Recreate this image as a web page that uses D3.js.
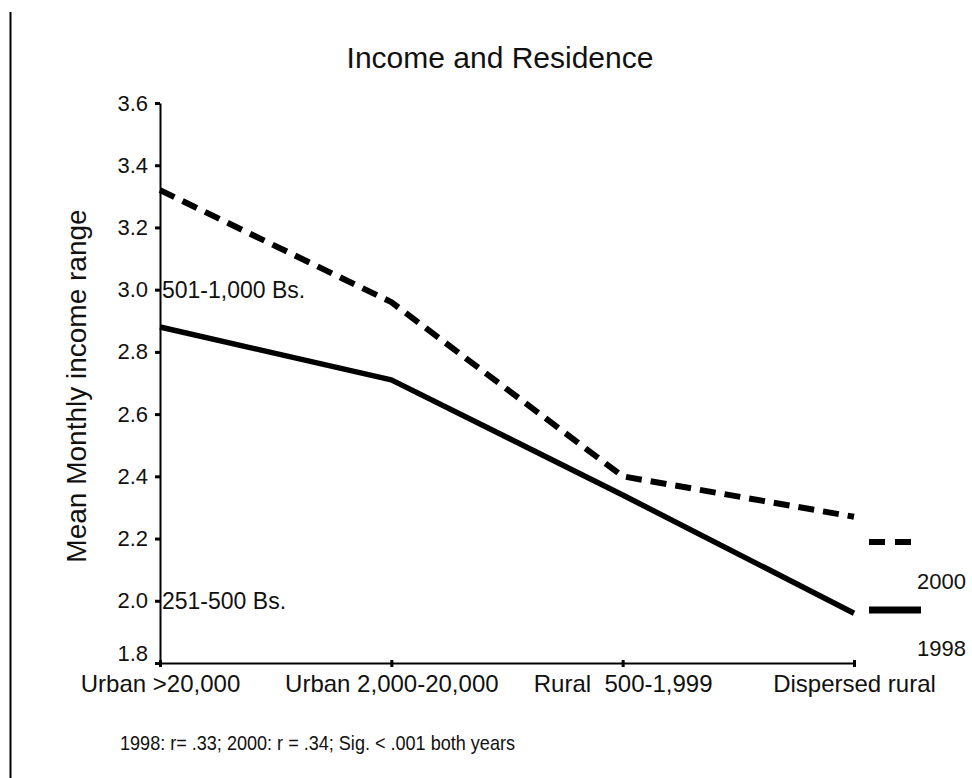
<!DOCTYPE html>
<html>
<head>
<meta charset="utf-8">
<script src="https://cdn.jsdelivr.net/npm/d3@7"></script>
<style>
  html, body { margin: 0; padding: 0; background: #fff; }
  svg { display: block; }
  text { font-family: "Liberation Sans", Arial, sans-serif; fill: #111; }
</style>
</head>
<body>
<svg id="chart" width="972" height="778"></svg>
<script>
// ---- data ----
const categories = ["Urban >20,000", "Urban 2,000-20,000", "Rural  500-1,999", "Dispersed rural"];
const values1998 = [2.88, 2.71, 2.34, 1.96];
const values2000 = [3.32, 2.96, 2.40, 2.27];
const yTicks = [1.8, 2.0, 2.2, 2.4, 2.6, 2.8, 3.0, 3.2, 3.4, 3.6];
const incomeLabels = [{ v: 3.0, label: "501-1,000 Bs." }, { v: 2.0, label: "251-500 Bs." }];
const seriesNames = ["2000", "1998"];
const titleText = "Income and Residence";
const yAxisTitle = "Mean Monthly income range";
const noteText = "1998:  r= .33; 2000: r = .34; Sig. < .001 both years";

// ---- layout ----
const svg = d3.select("#chart");
const x = d3.scalePoint().domain(categories).range([160, 854]).padding(0);
const y = d3.scaleLinear().domain([1.8, 3.6]).range([663, 103]);

// left frame line
svg.append("line").attr("x1", 10.5).attr("x2", 10.5).attr("y1", 12).attr("y2", 778)
  .attr("stroke", "#000").attr("stroke-width", 2);

// title
svg.append("text").attr("x", 500).attr("y", 68).attr("text-anchor", "middle")
  .style("font-size", "30px").text(titleText);

// y axis
const yAxis = svg.append("g").attr("transform", "translate(160,0)")
  .call(d3.axisLeft(y).tickValues(yTicks).tickFormat(d3.format(".1f")).tickSize(5).tickSizeOuter(0).tickPadding(7));
yAxis.select(".domain").attr("stroke", "#000").attr("stroke-width", 2);
yAxis.selectAll(".tick line").attr("stroke", "#000").attr("stroke-width", 3);
yAxis.selectAll(".tick text").style("font-size", "22px").style("font-family", "Liberation Sans, Arial, sans-serif").attr("fill", "#111")
  .attr("dy", d => d === yTicks[0] ? "-0.1em" : "0.32em");

// x axis
const xAxis = svg.append("g").attr("transform", "translate(0,663)")
  .call(d3.axisBottom(x).tickSize(4).tickSizeOuter(0).tickPadding(8));
xAxis.select(".domain").attr("stroke", "#000").attr("stroke-width", 2);
xAxis.selectAll(".tick line").attr("stroke", "#000").attr("stroke-width", 3).attr("y1", -3);
xAxis.selectAll(".tick text").style("font-size", "24px").style("font-family", "Liberation Sans, Arial, sans-serif").attr("fill", "#111")
  .style("white-space", "pre");

// y axis title
svg.append("text").attr("transform", `translate(86,${(103 + 663) / 2 + 3}) rotate(-90)`)
  .attr("text-anchor", "middle").style("font-size", "28px").text(yAxisTitle);

// income range labels
svg.selectAll("text.income").data(incomeLabels).enter().append("text")
  .attr("class", "income").attr("x", 162).attr("y", d => y(d.v)).attr("dy", "0.35em")
  .style("font-size", "23px").text(d => d.label);

// lines
const line = d3.line().x((d, i) => x(categories[i])).y(d => y(d));
svg.append("path").datum(values2000).attr("d", line).attr("fill", "none")
  .attr("stroke", "#000").attr("stroke-width", 6).attr("stroke-dasharray", "16,9").attr("stroke-linejoin", "round");
svg.append("path").datum(values1998).attr("d", line).attr("fill", "none")
  .attr("stroke", "#000").attr("stroke-width", 5.5).attr("stroke-linejoin", "round");

// legend
const legend = svg.append("g");
legend.append("line").attr("x1", 869).attr("x2", 911).attr("y1", 542).attr("y2", 542)
  .attr("stroke", "#000").attr("stroke-width", 6).attr("stroke-dasharray", "16,10");
legend.append("text").attr("x", 917).attr("y", 589).style("font-size", "22px").text(seriesNames[0]);
legend.append("line").attr("x1", 869).attr("x2", 921).attr("y1", 610).attr("y2", 610)
  .attr("stroke", "#000").attr("stroke-width", 7);
legend.append("text").attr("x", 917).attr("y", 656).style("font-size", "22px").text(seriesNames[1]);

// note
svg.append("text").attr("x", 120).attr("y", 750).style("font-size", "21px")
  .attr("textLength", 395).attr("lengthAdjust", "spacingAndGlyphs").text(noteText);
</script>
</body>
</html>
